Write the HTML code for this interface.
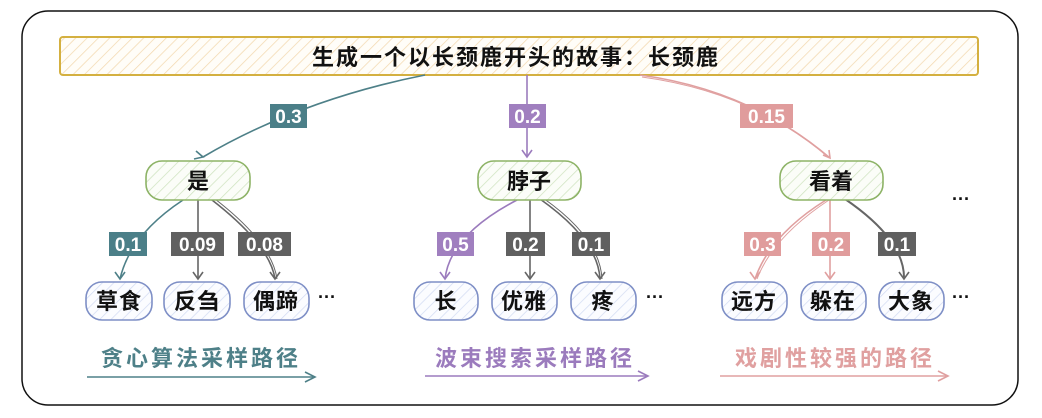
<!DOCTYPE html>
<html><head><meta charset="utf-8">
<style>
html,body{margin:0;padding:0;background:#fff;}
svg{display:block;}
text{font-family:"Liberation Sans","Noto Sans CJK SC",sans-serif;}
.cn{font-family:"Noto Sans CJK SC","WenQuanYi Zen Hei",sans-serif;}
.lbl{font-family:"Liberation Sans",sans-serif;font-weight:bold;font-size:19px;fill:#fff;}
</style></head><body>
<svg width="1042" height="418" viewBox="0 0 1042 418" xmlns="http://www.w3.org/2000/svg">
<defs>
<pattern id="hy" width="8" height="8" patternUnits="userSpaceOnUse" patternTransform="rotate(45)"><rect width="8" height="8" fill="#fffdf8"/><line x1="0" y1="0" x2="0" y2="8" stroke="#f3d9b0" stroke-width="1.5"/></pattern>
<pattern id="hg" width="8" height="8" patternUnits="userSpaceOnUse" patternTransform="rotate(45)"><rect width="8" height="8" fill="#fbfdf8"/><line x1="0" y1="0" x2="0" y2="8" stroke="#cfe3c0" stroke-width="1.5"/></pattern>
<pattern id="hb" width="8" height="8" patternUnits="userSpaceOnUse" patternTransform="rotate(45)"><rect width="8" height="8" fill="#fbfcff"/><line x1="0" y1="0" x2="0" y2="8" stroke="#d3dcf3" stroke-width="1.5"/></pattern>
</defs>
<rect x="22" y="11" width="996" height="394" rx="26" fill="#fff" stroke="#111" stroke-width="1.5"/>
<rect x="60" y="37" width="918" height="38" rx="3" fill="url(#hy)" stroke="#d4b040" stroke-width="2"/>
<text x="516" y="65" text-anchor="middle" class="cn" font-size="22" font-weight="bold" letter-spacing="2" fill="#111">生成一个以长颈鹿开头的故事：长颈鹿</text>

<g fill="none" stroke-width="1.6">
<path d="M425 75 Q300 100 203 157" stroke="#4e8088"/>
<path d="M196 151 L203 157 L194 159" stroke="#4e8088"/>
<path d="M527 75 L527 157" stroke="#9b7bbd"/>
<path d="M522 150 L527 157 L532 150" stroke="#9b7bbd"/>
<path d="M640 75 Q750 90 830 158" stroke="#e0a0a0"/>
<path d="M642 77 Q752 92 828 157" stroke="#e0a0a0" stroke-width="1"/>
<path d="M823 155 L830 158 L829 150" stroke="#e0a0a0"/>
<path d="M183 200 Q130 235 120 279" stroke="#4e8088"/>
<path d="M115 272 L120 279 L125 272" stroke="#4e8088"/>
<path d="M198 200 L198 279" stroke="#666"/>
<path d="M193 272 L198 279 L203 272" stroke="#666"/>
<path d="M212 200 Q270 245 275 279" stroke="#666"/>
<path d="M215 199 Q272 243 277 279" stroke="#666" stroke-width="1"/>
<path d="M270 272 L275 279 L280 272" stroke="#666"/>
<path d="M517 200 Q450 235 445 279" stroke="#9b7bbd"/>
<path d="M440 272 L445 279 L450 272" stroke="#9b7bbd"/>
<path d="M530 200 L530 279" stroke="#666"/>
<path d="M525 272 L530 279 L535 272" stroke="#666"/>
<path d="M540 199 Q598 240 600 279" stroke="#666"/>
<path d="M543 198 Q600 238 602 279" stroke="#666" stroke-width="1"/>
<path d="M595 272 L600 279 L605 272" stroke="#666"/>
<path d="M826 200 Q770 235 755 279" stroke="#e0a0a0"/>
<path d="M829 200 Q773 237 757 279" stroke="#e0a0a0" stroke-width="1"/>
<path d="M750 272 L755 279 L760 272" stroke="#e0a0a0"/>
<path d="M830 200 L830 279" stroke="#e0a0a0"/>
<path d="M825 272 L830 279 L835 272" stroke="#e0a0a0"/>
<path d="M845 199 Q905 240 904 279" stroke="#666" stroke-width="2"/>
<path d="M899 272 L904 279 L909 272" stroke="#666"/>
<path d="M87 377 L315 377" stroke="#4e8088"/>
<path d="M305 372 L315 377 L305 382" stroke="#4e8088"/>
<path d="M425 376 L648 376" stroke="#9b7bbd"/>
<path d="M638 371 L648 376 L638 381" stroke="#9b7bbd"/>
<path d="M720 376 L948 376" stroke="#e0a0a0"/>
<path d="M938 371 L948 376 L938 381" stroke="#e0a0a0"/>
</g>

<rect x="270" y="104" width="37" height="24" fill="#4b7f88"/><text x="288.5" y="123" text-anchor="middle" class="lbl">0.3</text>
<rect x="509" y="104" width="37" height="24" fill="#a07fbf"/><text x="527.5" y="123" text-anchor="middle" class="lbl">0.2</text>
<rect x="740" y="104" width="53" height="24" fill="#e09c9c"/><text x="766.5" y="123" text-anchor="middle" class="lbl">0.15</text>

<rect x="109" y="232" width="38" height="24" fill="#4b7f88"/><text x="128" y="251" text-anchor="middle" class="lbl">0.1</text>
<rect x="171" y="232" width="53" height="24" fill="#606060"/><text x="197.5" y="251" text-anchor="middle" class="lbl">0.09</text>
<rect x="238" y="232" width="53" height="24" fill="#606060"/><text x="264.5" y="251" text-anchor="middle" class="lbl">0.08</text>
<rect x="437" y="232" width="37" height="24" fill="#a07fbf"/><text x="455.5" y="251" text-anchor="middle" class="lbl">0.5</text>
<rect x="506" y="232" width="39" height="24" fill="#606060"/><text x="525.5" y="251" text-anchor="middle" class="lbl">0.2</text>
<rect x="572" y="232" width="38" height="24" fill="#606060"/><text x="591" y="251" text-anchor="middle" class="lbl">0.1</text>
<rect x="744" y="232" width="37" height="24" fill="#e09c9c"/><text x="762.5" y="251" text-anchor="middle" class="lbl">0.3</text>
<rect x="812" y="232" width="38" height="24" fill="#e09c9c"/><text x="831" y="251" text-anchor="middle" class="lbl">0.2</text>
<rect x="878" y="232" width="38" height="24" fill="#606060"/><text x="897" y="251" text-anchor="middle" class="lbl">0.1</text>

<g stroke="#8db366" stroke-width="1.6" fill="url(#hg)">
<rect x="146" y="161" width="104" height="39" rx="16"/>
<rect x="478" y="161" width="103" height="39" rx="16"/>
<rect x="780" y="161" width="103" height="39" rx="16"/>
</g>
<g class="cn" font-size="22" font-weight="bold" fill="#111" text-anchor="middle">
<text x="198" y="189">是</text>
<text x="529" y="189">脖子</text>
<text x="831" y="189">看着</text>
</g>

<g stroke="#7e8fc6" stroke-width="1.6" fill="url(#hb)">
<rect x="86" y="282" width="66" height="38" rx="16"/>
<rect x="164" y="282" width="66" height="38" rx="16"/>
<rect x="244" y="282" width="65" height="38" rx="16"/>
<rect x="414" y="282" width="64" height="38" rx="16"/>
<rect x="492" y="282" width="65" height="38" rx="16"/>
<rect x="571" y="282" width="65" height="38" rx="16"/>
<rect x="722" y="282" width="65" height="38" rx="16"/>
<rect x="801" y="282" width="65" height="38" rx="16"/>
<rect x="879" y="282" width="65" height="38" rx="16"/>
</g>
<g class="cn" font-size="22" font-weight="bold" fill="#111" text-anchor="middle" letter-spacing="1">
<text x="119" y="309">草食</text>
<text x="197" y="309">反刍</text>
<text x="276" y="309">偶蹄</text>
<text x="446" y="309">长</text>
<text x="524" y="309">优雅</text>
<text x="603" y="309">疼</text>
<text x="754" y="309">远方</text>
<text x="833" y="309">躲在</text>
<text x="911" y="309">大象</text>
</g>
<g font-size="18" font-weight="bold" fill="#111">
<text x="318" y="303">···</text>
<text x="646" y="303">···</text>
<text x="952" y="303">···</text>
<text x="952" y="205">···</text>
</g>

<g class="cn" font-size="22" font-weight="bold" text-anchor="middle" letter-spacing="3">
<text x="201" y="366" fill="#4e8088">贪心算法采样路径</text>
<text x="535" y="366" fill="#9b7bbd">波束搜索采样路径</text>
<text x="835" y="366" fill="#e0a0a0">戏剧性较强的路径</text>
</g>
</svg>
</body></html>
